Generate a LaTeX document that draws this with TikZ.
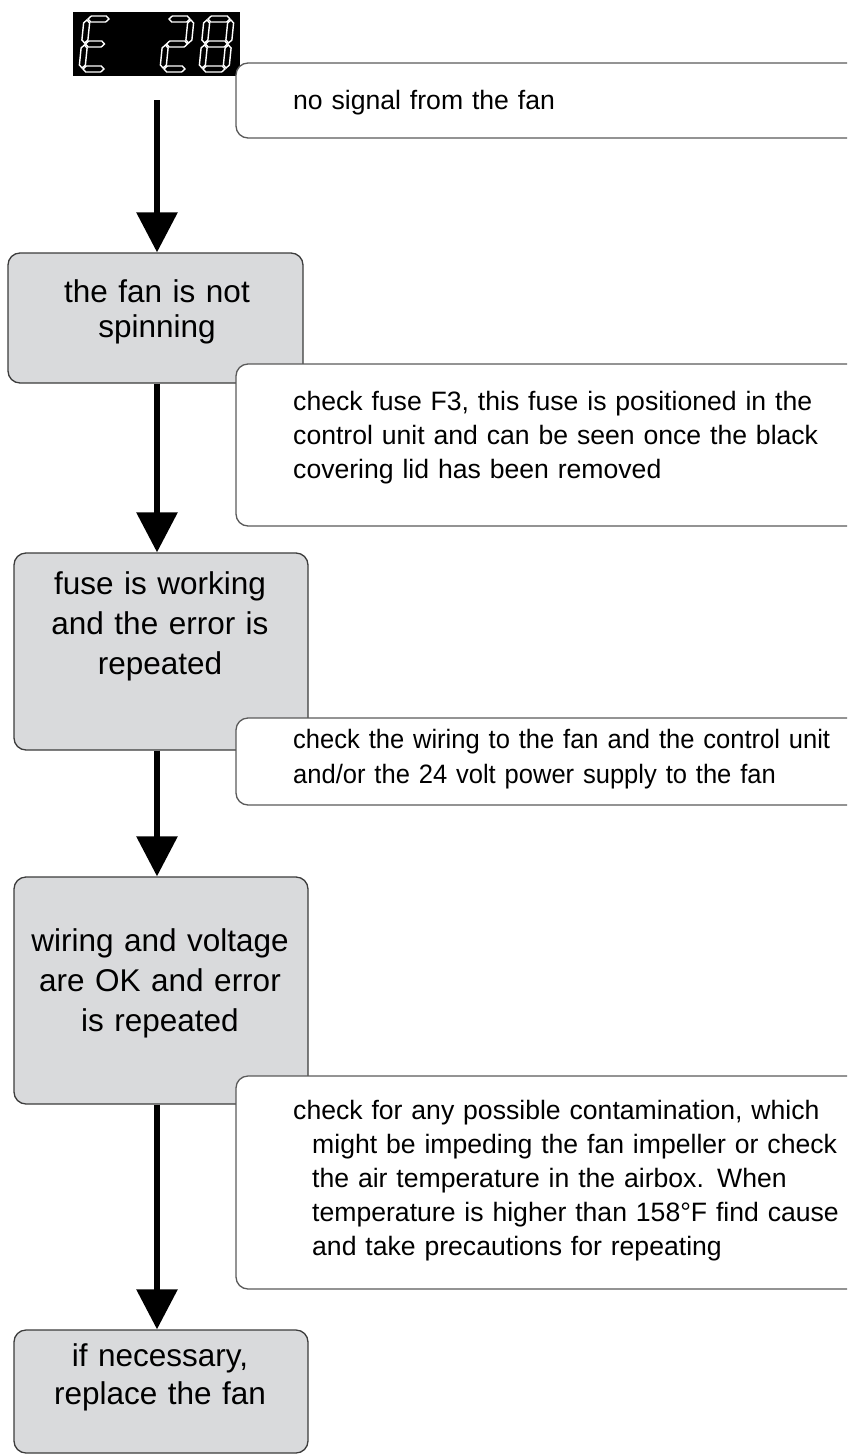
\documentclass[tikz,border=0pt]{standalone}
\usepackage{fontspec}
\setmainfont{Liberation Sans}
\newfontfamily\narrowfont[FakeStretch=0.96]{Liberation Sans}
\usetikzlibrary{arrows.meta}
\definecolor{boxgray}{HTML}{D9DADC}
\definecolor{edgegray}{HTML}{3C3C3C}
\definecolor{noteedge}{HTML}{5A5A5A}
\tikzset{
  graybox/.style={draw=edgegray, line width=1.3pt, fill=boxgray, rounded corners=12pt, inner sep=0pt},
  notebox/.style={draw=noteedge, line width=1.3pt, fill=white, rounded corners=12pt, inner sep=0pt},
  bigtext/.style={font=\fontsize{31.5}{40}\selectfont, align=center, text width=290pt, inner sep=0pt, anchor=base},
  smalltext/.style={font=\fontsize{26.6}{34}\selectfont, align=left, text width=560pt, inner sep=0pt, anchor=base west},
  flow/.style={line width=6pt, -{Triangle[length=40pt,width=40pt]}},
  seg/.style={draw=white, fill=black, line width=1.4pt, line join=miter}
}
\newcommand{\hsegm}[3]{\path[seg] (#1,#3) -- ({#1+3},{#3-3}) -- ({#2-3},{#3-3}) -- (#2,#3) -- ({#2-3},{#3+3}) -- ({#1+3},{#3+3}) -- cycle;}
\newcommand{\vsegm}[3]{\path[seg] (#1,#2) -- ({#1+3},{#2+3}) -- ({#1+3},{#3-3}) -- (#1,#3) -- ({#1-3},{#3-3}) -- ({#1-3},{#2+3}) -- cycle;}
\begin{document}
\begin{tikzpicture}[x=1pt,y=-1pt]
\useasboundingbox (0,0) rectangle (847,1456);
\clip (0,0) rectangle (847,1456);

% display
\node[fill=black, minimum width=167pt, minimum height=64pt, inner sep=0pt] (disp) at (156.5,44) {};
\begin{scope}[shift={(87,19)}, xslant=0.1]
  \hsegm{1}{22}{0} \hsegm{1}{22}{50} \vsegm{0}{26}{49} \vsegm{0}{1}{24} \hsegm{1}{20}{25}
\end{scope}
\begin{scope}[shift={(168,19)}, xslant=0.1]
  \hsegm{1}{22}{0} \vsegm{23}{1}{24} \hsegm{1}{22}{25} \vsegm{0}{26}{49} \hsegm{1}{22}{50}
\end{scope}
\begin{scope}[shift={(207,19)}, xslant=0.1]
  \hsegm{1}{23}{0} \vsegm{24}{1}{24} \vsegm{24}{26}{49} \hsegm{1}{23}{50} \vsegm{0}{26}{49} \vsegm{0}{1}{24} \hsegm{1}{23}{25}
\end{scope}

% gray step boxes
\node[graybox, minimum width=295pt, minimum height=130pt] (b1) at (155.5,318) {};
\node[graybox, minimum width=294pt, minimum height=197pt] (b2) at (161,651.5) {};
\node[graybox, minimum width=294pt, minimum height=227pt] (b3) at (161,990.5) {};
\node[graybox, minimum width=294pt, minimum height=123pt] (b4) at (161,1391.5) {};

% connectors
\coordinate (s0) at (157,100);
\draw[flow] (s0) -- (s0 |- b1.north);
\draw[flow] (b1.south -| s0) -- (b2.north -| s0);
\draw[flow] (b2.south -| s0) -- (b3.north -| s0);
\draw[flow] (b3.south -| s0) -- (b4.north -| s0);

% note boxes
\node[notebox, minimum width=644pt, minimum height=75pt] (n1) at (558,100.5) {};
\node[notebox, minimum width=644pt, minimum height=162pt] (n2) at (558,445) {};
\node[notebox, minimum width=644pt, minimum height=87pt] (n3) at (558,761.5) {};
\node[notebox, minimum width=644pt, minimum height=213pt] (n4) at (558,1182.5) {};

% step texts
\node[bigtext, font=\fontsize{31.5}{35}\selectfont] (t1) at (157,302) {the fan is not\\spinning};
\node[bigtext] (t2) at (160,594) {fuse is working\\and the error is\\repeated};
\node[bigtext] (t3) at (160,951) {wiring and voltage\\are OK and error\\is repeated};
\node[bigtext, font=\fontsize{31.5}{38}\selectfont] (t4) at (160,1366) {if necessary,\\replace the fan};

% note texts
\node[smalltext] (m1) at (293,109) {no signal from the fan};
\node[smalltext] (m2) at (293,410) {\makebox[527pt][s]{check fuse F3, this fuse is positioned in the}\\
\makebox[527pt][s]{control unit and can be seen once the black}\\
covering lid has been removed};
\node[smalltext, font=\narrowfont\fontsize{26.6}{35}\selectfont] (m3) at (293,748) {check the wiring to the fan and the control unit\\
and/or the 24 volt power supply to the fan};
\node[smalltext] (m4) at (293,1119) {check for any possible contamination, which\\
\hspace*{19pt}might be impeding the fan impeller or check\\
\hspace*{19pt}the air temperature in the airbox. When\\
\hspace*{19pt}temperature is higher than 158°F find cause\\
\hspace*{19pt}and take precautions for repeating};
\end{tikzpicture}
\end{document}
